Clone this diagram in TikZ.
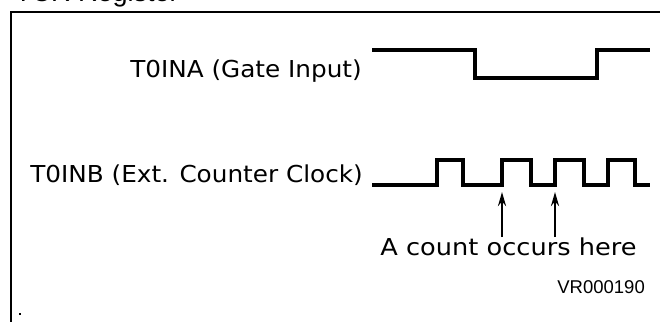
\documentclass[tikz,border=0pt]{standalone}
\usepackage{fontspec}
\setmainfont{Liberation Sans}
\newfontfamily\plotfont[FakeStretch=1.06]{DejaVu Sans}
\newfontfamily\plotwide[FakeStretch=1.10]{DejaVu Sans}
\usetikzlibrary{arrows.meta}
\begin{document}
\begin{tikzpicture}[x=1pt,y=-1pt,
  frame/.style={line width=1.5pt},
  sig/.style={line width=3.6pt,line join=miter,line cap=butt},
  lbl/.style={inner sep=0pt,font=\plotfont\fontsize{23.3}{28}\selectfont},
  note/.style={inner sep=0pt,font=\plotwide\fontsize{23.3}{28}\selectfont},
  ref/.style={inner sep=0pt,font=\fontsize{18.5}{22}\selectfont},
  marker/.style={line width=2.6pt,-{Stealth[length=14pt,width=8pt]}}]
\useasboundingbox (0,0) rectangle (660,322);
\fill[white] (0,0) rectangle (660,322);
% title (cut by top edge)
\node[inner sep=0pt,anchor=base west,font=\fontsize{27}{30}\selectfont] (title) at (15,1) {TCR Register};
% frame
\draw[frame] (660,12) -- (11,12) -- (11,322);
% labels
\node[lbl,anchor=base east] (ina) at (362,77) {T0INA (Gate Input)};
\node[lbl,anchor=base east] (inb) at (363,182) {T0INB (Ext. Counter Clock)};
% gate input waveform
\draw[sig] (372,50) -- (475,50) -- (475,78) -- (597,78) -- (597,50) -- (650,50);
% counter clock waveform
\draw[sig] (372,185) -- (437,185) -- (437,160) -- (463,160) -- (463,185)
  -- (502,185) -- (502,160) -- (531,160) -- (531,185)
  -- (555,185) -- (555,160) -- (584,160) -- (584,185)
  -- (608,185) -- (608,160) -- (635,160) -- (635,185) -- (650,185);
\coordinate (e1) at (502,192);
\coordinate (e2) at (555,192);
% note and arrows
\node[note,anchor=base] (count) at (508.5,255) {A count occurs here};
\coordinate (t1) at (502,237);
\coordinate (t2) at (555,237);
\draw[marker] (t1) -- (e1);
\draw[marker] (t2) -- (e2);
% reference number
\node[ref,anchor=base east] (vr) at (645,293) {VR000190};
% dot
\fill (19,313) rectangle (21,315);
\end{tikzpicture}
\end{document}
